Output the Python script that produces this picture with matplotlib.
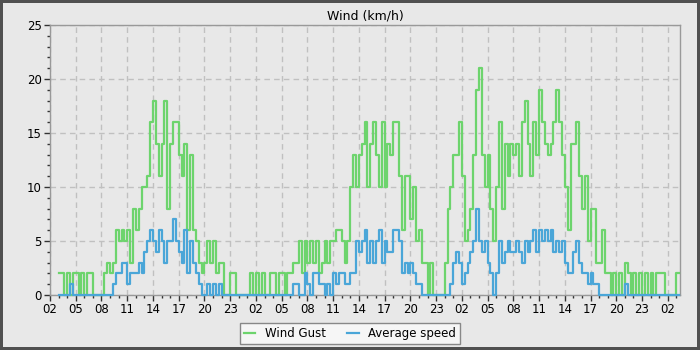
import matplotlib.pyplot as plt
import numpy as np

# readings every 20 minutes, starting at 03:00 on day 1
start_hour = 3
step = 1 / 3

gust = [
    2, 2, 0, 2, 0, 2, 2, 0, 2, 0, 2, 2, 0, 0, 0, 0, 2, 3,
    2, 3, 6, 5, 6, 5, 6, 3, 8, 6, 8, 10, 10, 11, 16, 18, 14, 11,
    14, 18, 8, 14, 16, 16, 13, 11, 14, 6, 13, 6, 5, 3, 2, 3, 5, 3,
    5, 2, 3, 3, 0, 0, 2, 2, 0, 0, 0, 0, 0, 2, 0, 2, 0, 2,
    0, 0, 2, 2, 0, 2, 2, 0, 2, 2, 3, 3, 5, 2, 5, 3, 5, 3,
    5, 2, 3, 5, 3, 5, 5, 6, 6, 5, 3, 5, 10, 13, 10, 13, 14, 16,
    10, 14, 16, 13, 10, 16, 10, 14, 13, 16, 16, 11, 6, 11, 11, 7, 10, 5,
    6, 3, 3, 0, 3, 0, 0, 0, 0, 3, 8, 10, 13, 13, 16, 11, 5, 6,
    8, 13, 19, 21, 13, 10, 13, 8, 5, 10, 16, 8, 14, 11, 14, 13, 14, 11,
    16, 18, 14, 11, 16, 13, 19, 16, 14, 13, 14, 16, 19, 16, 13, 10, 6, 14,
    14, 16, 11, 8, 11, 5, 8, 8, 3, 3, 6, 2, 2, 0, 2, 0, 2, 0,
    3, 2, 0, 2, 0, 2, 0, 2, 0, 2, 0, 2, 2, 2, 0, 0, 0, 0,
    2,
]

avg = [
    0, 0, 0, 0, 1, 0, 0, 0, 0, 0, 0, 0, 0, 0, 0, 0, 0, 0,
    0, 1, 2, 2, 3, 3, 1, 2, 2, 2, 3, 2, 4, 5, 6, 5, 4, 6,
    5, 3, 5, 5, 7, 5, 4, 3, 6, 2, 5, 3, 2, 1, 0, 0, 1, 0,
    1, 0, 1, 0, 0, 0, 0, 0, 0, 0, 0, 0, 0, 0, 0, 0, 0, 0,
    0, 0, 0, 0, 0, 0, 0, 0, 0, 0, 1, 1, 0, 0, 2, 1, 0, 2,
    2, 1, 1, 0, 1, 0, 2, 1, 2, 2, 1, 1, 2, 2, 5, 4, 5, 6,
    3, 5, 3, 5, 6, 3, 5, 4, 4, 6, 6, 5, 2, 3, 2, 3, 2, 1,
    1, 0, 0, 0, 0, 0, 0, 0, 0, 0, 0, 1, 3, 4, 3, 1, 2, 3,
    4, 5, 8, 5, 4, 5, 3, 2, 0, 2, 5, 3, 4, 5, 4, 4, 5, 4,
    3, 5, 4, 5, 6, 4, 6, 5, 6, 5, 6, 4, 5, 4, 5, 3, 2, 2,
    4, 5, 3, 2, 2, 1, 2, 1, 1, 0, 0, 0, 0, 0, 0, 0, 0, 0,
    1, 0, 0, 0, 0, 0, 0, 0, 0, 0, 0, 0, 0, 0, 0, 0, 0, 0,
    0,
]

t = start_hour + np.arange(len(gust) + 1) * step
g = np.append(gust, gust[-1])
a = np.append(avg, avg[-1])

bg = '#e8e8e8'
fig = plt.figure(figsize=(7, 3.5), dpi=100, facecolor=bg,
                 edgecolor='#505050', linewidth=3)
ax = fig.add_axes([50 / 700, 1 - 295 / 350, 630 / 700, 270 / 350])
ax.set_facecolor(bg)

ax.step(t, g, where='post', color='#6dd46d', lw=1.6, label='Wind Gust', clip_on=False, zorder=3)
ax.step(t, a, where='post', color='#4aa6d8', lw=1.6, label='Average speed', clip_on=False, zorder=4)

ax.set_xlim(2, 2 + 630 / 8.58)
ax.set_ylim(0, 25)

xt = np.arange(2, 75, 3)
ax.set_xticks(xt)
ax.set_xticklabels(['%02d' % (h % 24) for h in xt])
ax.set_xticks(np.arange(2, 76, 1), minor=True)
ax.set_yticks(np.arange(0, 26, 5))
ax.set_yticks(np.arange(0, 26, 1), minor=True)

ax.tick_params(which='major', length=4, width=1, color='#333333', labelsize=8.5, pad=2)
ax.tick_params(which='minor', length=2.5, width=1, color='#333333')
ax.grid(True, which='major', color='#c0c0c0', linestyle=(0, (4, 3)), linewidth=1)

for s in ['left', 'bottom', 'right', 'top']:
    ax.spines[s].set_color('#999999')
    ax.spines[s].set_linewidth(1)

ax.set_title('Wind (km/h)', fontsize=9, pad=4)

leg = fig.legend(loc='lower center', bbox_to_anchor=(0.5, 0.0), ncol=2, fontsize=8.5,
                 handlelength=1.0, columnspacing=1.8, fancybox=False, framealpha=1,
                 facecolor='#f6f6f6', edgecolor='#888888', borderpad=0.35)
leg.get_frame().set_linewidth(1)

plt.savefig('out.png', dpi=100, facecolor=bg, edgecolor='#505050')
